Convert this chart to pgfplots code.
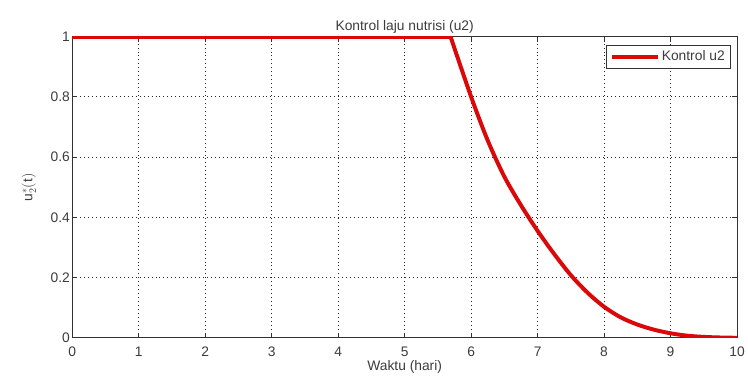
\documentclass[border=0pt]{standalone}
\usepackage{pgfplots}
\pgfplotsset{compat=1.18}
\usepackage{fontspec}
\setmainfont{Liberation Sans}
\definecolor{txt}{RGB}{60,60,60}
\definecolor{axc}{RGB}{50,50,50}
\definecolor{cred}{RGB}{218,8,8}
\begin{document}
\begin{tikzpicture}[x=1bp,y=1bp]
\begin{axis}[
  scale only axis,
  width=671bp, height=304bp,
  xmin=0, xmax=10, ymin=0, ymax=1,
  xtick={0,1,...,10}, ytick={0,0.2,0.4,0.6,0.8,1},
  yticklabels={0,0.2,0.4,0.6,0.8,1},
  /pgf/number format/assume math mode=true,
  tick align=inside,
  major tick length=5bp,
  tick style={axc, line width=0.8bp},
  axis line style={axc, line width=0.9bp},
  grid=major,
  major grid style={black!85, dash pattern=on 1bp off 3bp, line width=0.8bp},
  tick label style={font=\fontsize{14}{16}\selectfont, text=txt},
  yticklabel style={xshift=1bp},
  xticklabel style={yshift=-6bp},
  title={Kontrol laju nutrisi (u2)},
  title style={font=\fontsize{14}{16}\selectfont, text=txt, yshift=-6bp},
  xlabel={Waktu (hari)},
  xlabel style={font=\fontsize{14}{16}\selectfont, text=txt, yshift=3bp},
  ylabel={$\mathrm{u}_2^*\mathrm{(t)}$},
  ylabel style={font=\fontsize{14}{16}\selectfont, text=txt, yshift=8bp},
  legend style={at={(1,1)}, anchor=north east, xshift=-6bp, yshift=-8bp,
    draw=axc, line width=0.7bp, font=\fontsize{14}{16}\selectfont, text=txt,
    inner xsep=4bp, inner ysep=4bp},
  legend cell align=left,
  legend image code/.code={\draw[#1, line width=4bp] (0bp,0bp) -- (46bp,0bp);},
]
\addplot[cred, line width=4bp, forget plot] coordinates {(0,1) (5.69,1)};
\addplot[cred, line width=4bp, line join=round, smooth, tension=0.5] coordinates {
(5.69,1) (6.0,0.80) (6.25,0.655) (6.5,0.535) (6.75,0.44) (7.0,0.355)
(7.25,0.278) (7.5,0.208) (7.75,0.150) (8.0,0.103) (8.25,0.068) (8.5,0.044)
(8.75,0.027) (9.0,0.015) (9.25,0.007) (9.5,0.003) (9.75,0.001) (10,0)
};
\addlegendentry{Kontrol u2}
\end{axis}
\path[use as bounding box] ([xshift=-73bp,yshift=-42bp]current axis.south west) rectangle ([xshift=4bp,yshift=37bp]current axis.north east);
\end{tikzpicture}
\end{document}
